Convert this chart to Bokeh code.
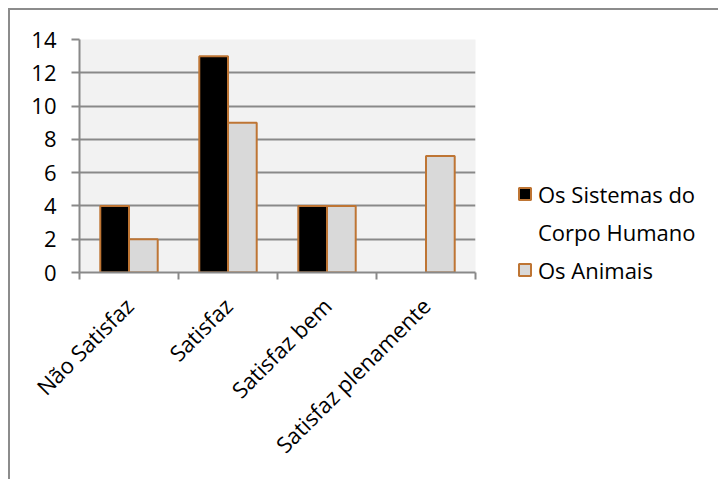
import math
from bokeh.plotting import figure
from bokeh.models import FixedTicker, Legend, LegendItem, Range1d, ColumnDataSource
from bokeh.embed import file_html
from bokeh.resources import INLINE

categories = ["Não Satisfaz", "Satisfaz", "Satisfaz bem", "Satisfaz plenamente"]
sistemas = [4, 13, 4, 0]
animais = [2, 9, 4, 7]
legend_lines = [["Os Sistemas do", "Corpo Humano"], ["Os Animais"]]
y_ticks = [0, 2, 4, 6, 8, 10, 12, 14]

FONT = "Open Sans"
GRID = "#898989"
EDGE = "#BE7534"
FS = "22px"
FILLS = ["black", "#D9D9D9"]

bw = 0.29
centers = [i + 0.5 for i in range(len(categories))]

def src(vals, off):
    xs = [c + off for c, v in zip(centers, vals) if v > 0]
    ys = [v for v in vals if v > 0]
    return ColumnDataSource(dict(x=xs, top=ys))

p = figure(frame_width=396, frame_height=233, x_range=Range1d(0, 4), y_range=Range1d(0, 14),
           output_backend="svg", toolbar_location=None,
           min_border_left=69, min_border_right=10, min_border_top=29, min_border_bottom=207,
           background_fill_color="#F2F2F2", border_fill_color="white", outline_line_color=None,
           styles={"margin-left": "8px", "margin-top": "8px",
                   "border-left": "2px solid #8c8c8c", "border-top": "2px solid #8c8c8c"})

r1 = p.vbar(x="x", top="top", width=bw, source=src(sistemas, -bw / 2),
            fill_color=FILLS[0], line_color=EDGE, line_width=2)
r2 = p.vbar(x="x", top="top", width=bw, source=src(animais, bw / 2),
            fill_color=FILLS[1], line_color=EDGE, line_width=2)
blank = p.vbar(x=[], top=[], width=bw, fill_alpha=0, line_alpha=0)

p.xgrid.visible = False
p.ygrid.grid_line_color = GRID
p.ygrid.grid_line_width = 2
p.ygrid.ticker = FixedTicker(ticks=y_ticks)

ya = p.yaxis[0]
ya.ticker = FixedTicker(ticks=y_ticks)
ya.axis_line_color = GRID
ya.axis_line_width = 2
ya.major_tick_line_color = GRID
ya.major_tick_line_width = 2
ya.major_tick_out = 8
ya.major_tick_in = 0
ya.minor_tick_line_color = None
ya.major_label_text_font = FONT
ya.major_label_text_font_size = FS
ya.major_label_text_color = "black"
ya.major_label_standoff = 15

xa = p.xaxis[0]
xa.ticker = FixedTicker(ticks=centers, minor_ticks=list(range(len(categories) + 1)))
xa.major_label_overrides = {c: name for c, name in zip(centers, categories)}
xa.axis_line_color = GRID
xa.axis_line_width = 2
xa.major_tick_line_color = None
xa.major_tick_out = 0
xa.major_tick_in = 0
xa.minor_tick_line_color = GRID
xa.minor_tick_line_width = 2
xa.minor_tick_out = 7
xa.minor_tick_in = 0
xa.major_label_orientation = math.pi / 4
xa.major_label_text_font = FONT
xa.major_label_text_font_size = FS
xa.major_label_text_color = "black"
xa.major_label_standoff = 22

# legend: blank rows above push the real rows below the frame centre
items = [LegendItem(label=" ", renderers=[blank]) for _ in range(4)]
items += [LegendItem(label=legend_lines[0][0], renderers=[r1]),
          LegendItem(label=legend_lines[0][1], renderers=[blank]),
          LegendItem(label=legend_lines[1][0], renderers=[r2])]
legend = Legend(items=items, location="center_left", padding=0, margin=42, spacing=8,
                border_line_color=None, background_fill_alpha=0,
                glyph_width=15, glyph_height=15, label_standoff=6, label_height=30,
                label_text_font=FONT, label_text_font_size=FS, label_text_color="black")
p.add_layout(legend, "right")

open("out.html", "w").write(file_html(p, INLINE))
